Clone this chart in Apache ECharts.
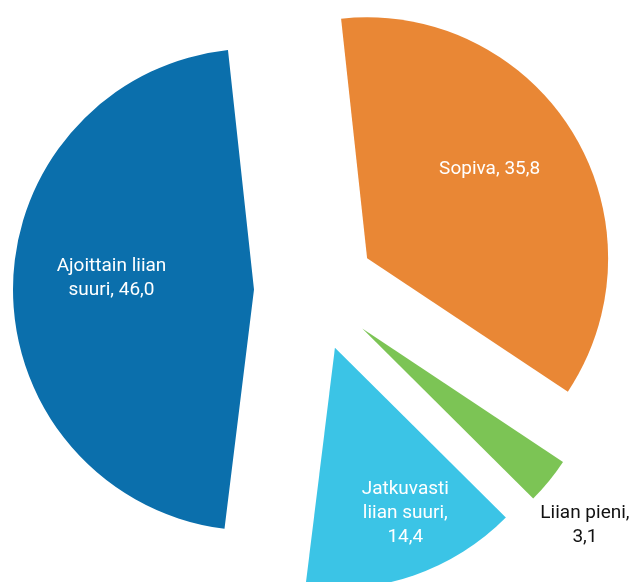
<!DOCTYPE html>
<html>
<head>
<meta charset="utf-8">
<script src="https://cdn.jsdelivr.net/npm/echarts@6/dist/echarts.min.js"></script>
<style>
html,body{margin:0;padding:0;background:#fff;}
#chart{width:632px;height:582px;}
</style>
</head>
<body>
<div id="chart"></div>
<script>
const categories = ['Sopiva', 'Liian pieni', 'Jatkuvasti liian suuri', 'Ajoittain liian suuri'];
const values = [35.8, 3.1, 14.4, 46.0];
const labelNames = ['Sopiva', 'Liian pieni', 'Jatkuvasti\nliian suuri', 'Ajoittain liian\nsuuri'];
const colors = ['#E98735', '#7CC455', '#3BC4E6', '#0B6FAC'];
const labelColors = ['#ffffff', '#111111', '#ffffff', '#ffffff'];
const labelBreaks = [' ', '\n', '\n', ' '];
const labelShift = [[17, -25], [127, 119], [30, 49], [-19, -10]];

const fmt = v => v.toFixed(1).replace('.', ',');

const chart = echarts.init(document.getElementById('chart'), null, {renderer: 'canvas'});
chart.setOption({
  animation: false,
  series: [{
    type: 'pie',
    center: [315, 290],
    radius: 241,
    startAngle: 96.2,
    clockwise: true,
    selectedMode: 'multiple',
    selectedOffset: 61,
    avoidLabelOverlap: false,
    emphasis: {disabled: true},
    label: {
      show: true,
      position: 'inside',
      fontFamily: 'Roboto',
      fontSize: 19,
      lineHeight: 24,
      align: 'center'
    },
    labelLine: {show: false},
    labelLayout: function (p) {
      const s = labelShift[p.dataIndex];
      return {dx: s[0], dy: s[1]};
    },
    data: categories.map((c, i) => ({
      name: c,
      value: values[i],
      selected: true,
      itemStyle: {color: colors[i]},
      label: {
        color: labelColors[i],
        formatter: labelNames[i] + ',' + labelBreaks[i] + fmt(values[i])
      }
    }))
  }]
});
</script>
</body>
</html>
